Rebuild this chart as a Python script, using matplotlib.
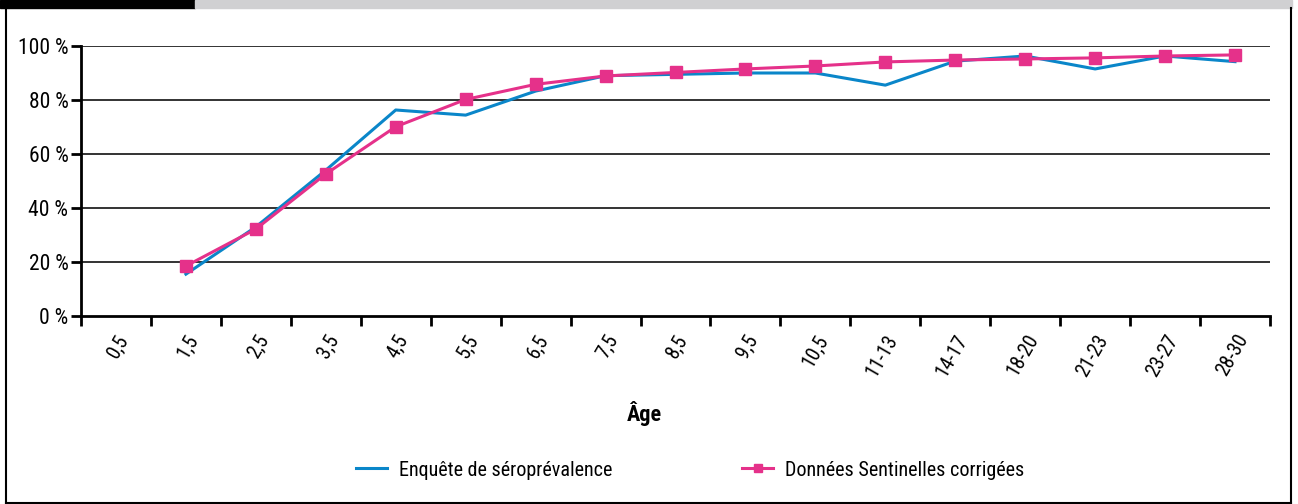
import matplotlib
matplotlib.use("Agg")
import matplotlib.pyplot as plt
from matplotlib.lines import Line2D
from matplotlib.patches import Rectangle
import numpy as np

categories = ["0,5", "1,5", "2,5", "3,5", "4,5", "5,5", "6,5", "7,5", "8,5", "9,5",
              "10,5", "11-13", "14-17", "18-20", "21-23", "23-27", "28-30"]
enquete = [np.nan, 15.5, 33, 54, 76.3, 74.4, 83.3, 89, 89.5, 90, 90.0, 85.5, 94.4, 96.3, 91.5, 96.3, 94.2]
sentinelles = [np.nan, 18.5, 32.2, 52.6, 70.1, 80.2, 85.8, 88.9, 90.2, 91.5, 92.6, 94.1, 94.8, 95.2, 95.6, 96.3, 96.7]
yticks = [0, 20, 40, 60, 80, 100]
ytick_labels = ["0 %", "20 %", "40 %", "60 %", "80 %", "100 %"]

plt.rcParams['font.family'] = ['Roboto Condensed', 'Liberation Sans Narrow', 'Roboto', 'DejaVu Sans']

W, H = 1298, 504
fig = plt.figure(figsize=(W / 100, H / 100), dpi=100)

# frame and top bar
fig.patches.append(Rectangle((0, 1 - 8 / H), 195 / W, 8 / H, transform=fig.transFigure, color='black', zorder=0))
fig.patches.append(Rectangle((195 / W, 1 - 8 / H), (1292 - 195) / W, 8 / H, transform=fig.transFigure, color='#d0d0d2', zorder=0))
fig.lines.append(Line2D([6 / W, 6 / W], [0, 1 - 8 / H], transform=fig.transFigure, color='black', lw=1.5))
fig.lines.append(Line2D([1291 / W, 1291 / W], [0, 1 - 8 / H], transform=fig.transFigure, color='black', lw=1.5))
fig.lines.append(Line2D([6 / W, 1291 / W], [1 / H, 1 / H], transform=fig.transFigure, color='black', lw=1.5))

left, right = 81, 1270
top, bottom = 46, 316
ax = fig.add_axes([left / W, 1 - bottom / H, (right - left) / W, (bottom - top) / H])

x = np.arange(len(categories)) + 0.5
ax.plot(x, enquete, color='#0a86c9', lw=2.2, label='Enquête de séroprévalence', zorder=3)
ax.plot(x, sentinelles, color='#e5318a', lw=2.2, marker='s', markersize=8,
        label='Données Sentinelles corrigées', zorder=4)

ax.set_xlim(0, len(categories))
ax.set_ylim(0, 100)
ax.set_yticks(yticks)
ax.set_yticklabels(ytick_labels, fontsize=15.5)
for yv in yticks[1:]:
    ax.axhline(yv, color='#333333', lw=1.4, zorder=1)

ax.set_xticks(np.arange(len(categories) + 1))
ax.set_xticklabels([])
ax.set_xticks(x, minor=True)
ax.set_xticklabels(categories, minor=True, rotation=60, ha='right', va='top',
                   rotation_mode='anchor', fontsize=14.5)
ax.tick_params(axis='x', which='minor', length=0, pad=11)
ax.tick_params(axis='x', which='major', length=7, width=2, direction='out')
ax.tick_params(axis='y', length=7, width=2, direction='out', pad=2)

for s in ['top', 'right']:
    ax.spines[s].set_visible(False)
ax.spines['left'].set_linewidth(2)
ax.spines['bottom'].set_linewidth(2)

fig.text(644 / W, 1 - 414 / H, 'Âge', fontsize=16, fontweight='bold', ha='center', va='center')

handles, labels = ax.get_legend_handles_labels()
leg1 = fig.legend([handles[0]], [labels[0]], loc='center left', bbox_to_anchor=(338 / W, 1 - 470 / H),
                  frameon=False, fontsize=14.5, handlelength=1.55, handletextpad=0.6)
leg2 = fig.legend([handles[1]], [labels[1]], loc='center left', bbox_to_anchor=(724 / W, 1 - 470 / H),
                  frameon=False, fontsize=14.5, handlelength=1.55, handletextpad=0.6, markerscale=0.8)

fig.savefig('out.png', dpi=100)
